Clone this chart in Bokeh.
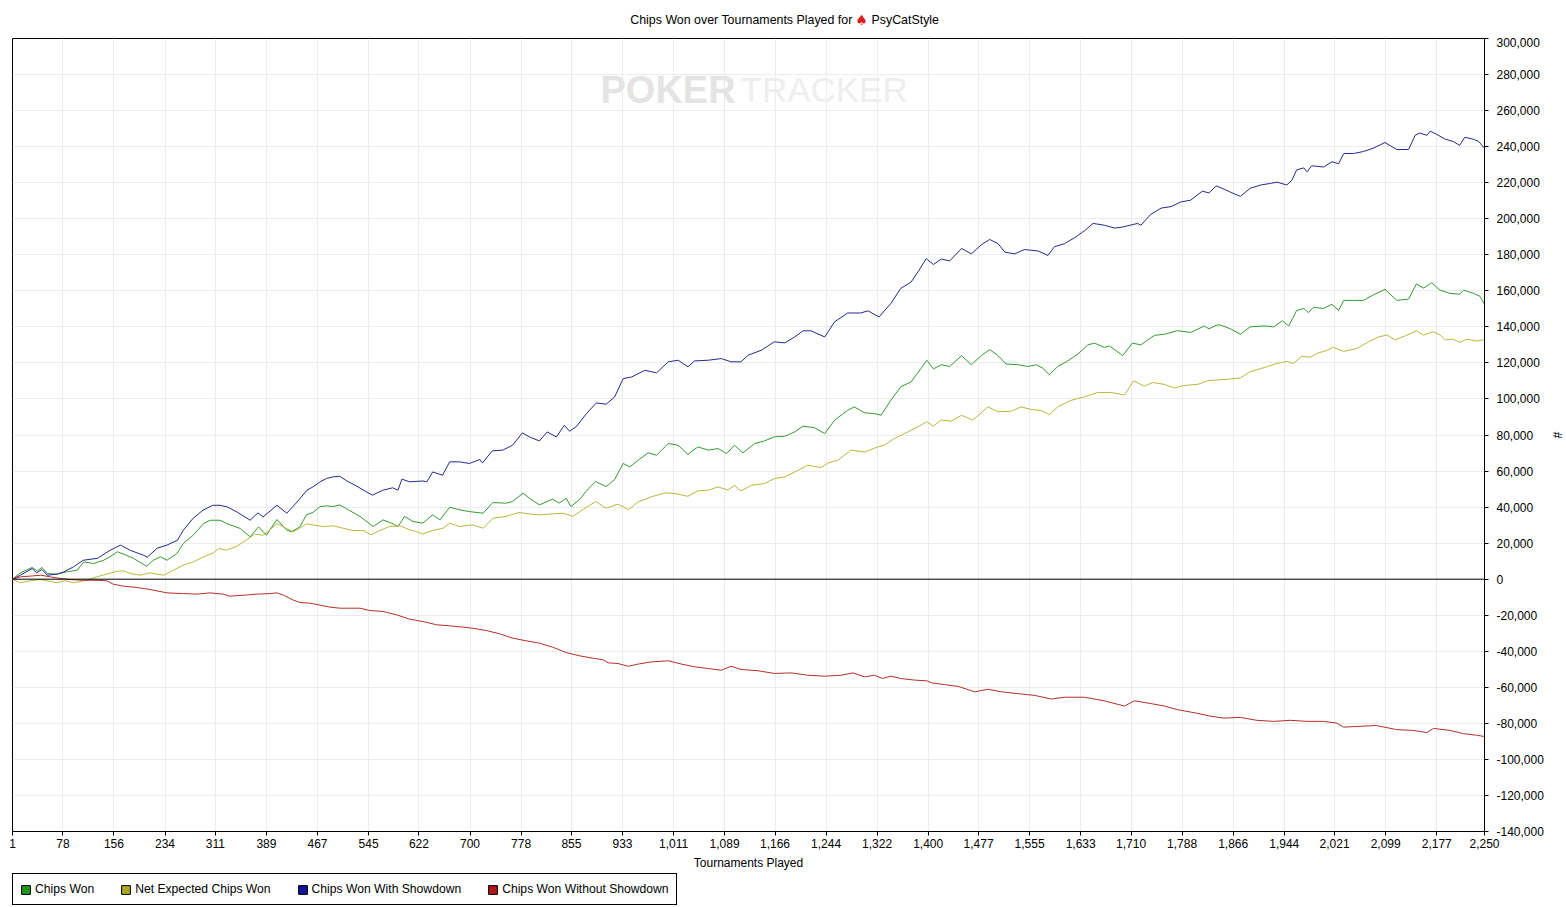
from bokeh.plotting import figure
from bokeh.layouts import column
from bokeh.models import (Range1d, FixedTicker, NumeralTickFormatter, Span, Label,
                          Legend, LegendItem)
from bokeh.embed import file_html
from bokeh.resources import INLINE

FONT = "Liberation Sans"

# ---------------- text ----------------
title_left = "Chips Won over Tournaments Played for"
title_icon = "\u2660"
title_player = "PsyCatStyle"
x_label = "Tournaments Played"
y_label = "#"
series_names = ["Chips Won", "Net Expected Chips Won", "Chips Won With Showdown",
                "Chips Won Without Showdown"]

# ---------------- axes ----------------
x_ticks = [1, 78, 156, 234, 311, 389, 467, 545, 622, 700, 778, 855, 933, 1011, 1089,
           1166, 1244, 1322, 1400, 1477, 1555, 1633, 1710, 1788, 1866, 1944, 2021,
           2099, 2177, 2250]
y_ticks = [-140000, -120000, -100000, -80000, -60000, -40000, -20000, 0, 20000, 40000,
           60000, 80000, 100000, 120000, 140000, 160000, 180000, 200000, 220000, 240000,
           260000, 280000, 300000]
x_min, x_max = 1, 2250
y_min, y_max = -140000, 300000

# ---------------- data ----------------
# Chips Won With Showdown (blue)
sd_t = [1, 13, 31, 38, 46, 54, 69, 79, 94, 109, 131, 150, 166, 181, 201, 207, 222, 237, 253,
        262, 277, 292, 307, 318, 329, 344, 364, 376, 384, 405, 420, 436, 451, 460, 471, 481,
        491, 501, 512, 527, 542, 551, 567, 582, 590, 596, 608, 628, 634, 643, 658, 669, 684,
        699, 715, 719, 734, 750, 765, 780, 791, 806, 818, 832, 844, 852, 862, 878, 893, 908,
        921, 934, 947, 967, 985, 1003, 1018, 1033, 1043, 1064, 1084, 1099, 1114, 1125, 1145,
        1165, 1181, 1196, 1209, 1221, 1242, 1257, 1277, 1297, 1308, 1325, 1343, 1358, 1374,
        1386, 1397, 1408, 1420, 1433, 1451, 1466, 1481, 1494, 1507, 1517, 1532, 1547, 1568,
        1583, 1593, 1608, 1624, 1639, 1652, 1669, 1685, 1697, 1720, 1725, 1740, 1756, 1771,
        1786, 1801, 1819, 1829, 1840, 1849, 1862, 1877, 1892, 1908, 1923, 1933, 1948, 1956,
        1963, 1974, 1979, 1986, 2004, 2017, 2027, 2035, 2050, 2065, 2080, 2098, 2116, 2134,
        2144, 2151, 2162, 2167, 2177, 2190, 2202, 2212, 2220, 2233, 2241, 2250]
sd_v = [0, 2200, 5900, 3500, 5400, 2200, 2800, 4000, 6800, 10500, 11600, 16000, 18900, 16000,
        13300, 12200, 17200, 18900, 21600, 27200, 33800, 38300, 41000, 41000, 40100, 37300,
        32700, 36800, 34600, 41000, 36600, 42900, 49400, 51200, 54000, 55900, 56800, 57100,
        54500, 51600, 48400, 46600, 49400, 50700, 49400, 55500, 54000, 54500, 54000, 59500,
        57700, 65100, 65100, 64200, 66400, 64500, 71200, 71600, 74300, 81200, 78900, 76700,
        81700, 78900, 85400, 82100, 84500, 91900, 97800, 97100, 101100, 111300, 112200,
        115900, 114500, 120600, 121500, 117800, 121100, 121500, 122400, 120600, 120600,
        124300, 127000, 131700, 131100, 134400, 137800, 137800, 134400, 142800, 147700,
        147700, 148900, 145500, 153000, 161300, 164900, 171400, 177900, 174600, 177600,
        176600, 183500, 180500, 185500, 188500, 186100, 181500, 180500, 182900, 182100,
        179600, 184500, 186100, 189500, 193400, 197400, 196400, 194800, 195400, 197400,
        196400, 202400, 205900, 206700, 209300, 210300, 215300, 214300, 218200, 216900,
        214700, 212400, 216900, 218700, 219600, 220300, 218700, 221500, 227100, 228200,
        226000, 229400, 228700, 231600, 230500, 236200, 236200, 237300, 239100, 242300,
        238400, 238400, 246300, 247500, 246300, 248600, 246800, 244100, 242900, 240700,
        245200, 244100, 242900, 239100]

# Chips Won (green)
cw_t = [1, 13, 31, 39, 46, 54, 69, 84, 100, 110, 125, 140, 150, 161, 171, 186, 206, 216, 227,
        237, 252, 262, 277, 293, 303, 318, 328, 349, 364, 377, 389, 405, 420, 427, 440, 450,
        460, 471, 481, 491, 501, 516, 532, 552, 567, 580, 590, 600, 613, 628, 643, 654, 669,
        684, 699, 720, 735, 755, 765, 781, 791, 806, 826, 836, 847, 854, 867, 877, 892, 908,
        921, 934, 944, 957, 972, 985, 1003, 1018, 1033, 1048, 1064, 1079, 1092, 1104, 1117,
        1135, 1150, 1165, 1181, 1196, 1209, 1226, 1242, 1257, 1277, 1287, 1303, 1318, 1328,
        1343, 1358, 1374, 1389, 1398, 1408, 1420, 1433, 1451, 1466, 1481, 1494, 1507, 1519,
        1537, 1552, 1565, 1575, 1585, 1598, 1613, 1629, 1644, 1654, 1669, 1677, 1690, 1697,
        1712, 1725, 1740, 1746, 1761, 1781, 1801, 1822, 1829, 1840, 1846, 1862, 1877, 1892,
        1913, 1928, 1941, 1951, 1963, 1974, 1981, 1989, 2004, 2017, 2027, 2035, 2050, 2065,
        2080, 2098, 2116, 2134, 2146, 2157, 2169, 2182, 2197, 2212, 2218, 2233, 2243, 2250]
cw_v = [0, 3500, 6500, 4600, 6500, 3100, 2800, 4100, 5000, 9600, 8700, 10500, 12400, 15200,
        13900, 11500, 7200, 10500, 12400, 10500, 14200, 19800, 24400, 30900, 32700, 32700,
        30900, 28100, 23500, 29000, 24400, 33100, 27200, 26300, 29000, 35700, 37000, 40300,
        40700, 40300, 41200, 38100, 34800, 29200, 32900, 31100, 29200, 34800, 32000, 31100,
        35700, 32900, 39900, 38500, 37500, 36600, 42500, 42200, 43100, 47700, 44900, 41200,
        44400, 42200, 44900, 40300, 44000, 48600, 54200, 51400, 55300, 64200, 62300, 66000,
        70100, 68800, 75300, 74300, 69300, 73400, 71600, 72500, 69700, 74300, 70100, 75300,
        76700, 79000, 79300, 81700, 84900, 84100, 80800, 88200, 93700, 95600, 92300, 91900,
        91000, 99300, 106700, 109500, 116900, 121500, 116700, 119000, 118000, 124000, 119000,
        124000, 127400, 124000, 119400, 119000, 118000, 119000, 117100, 113500, 118000,
        121000, 125000, 130000, 131000, 128600, 129400, 126000, 124000, 131000, 130000,
        133900, 135300, 135900, 137900, 136900, 140500, 138900, 140900, 141100, 138900,
        135900, 140000, 140500, 140000, 143400, 140500, 149100, 150200, 147900, 150900,
        150200, 152500, 149100, 154700, 154700, 154700, 157700, 160800, 154700, 155400,
        163800, 161500, 164500, 160400, 158600, 158100, 160400, 158600, 157000, 152500]

# Net Expected Chips Won (olive yellow)
nec_t = [1, 13, 28, 44, 54, 69, 82, 94, 110, 130, 145, 161, 171, 181, 196, 211, 232, 247, 262,
         277, 293, 308, 316, 328, 344, 354, 364, 371, 384, 394, 405, 420, 430, 440, 450, 460,
         476, 491, 506, 521, 537, 549, 562, 577, 593, 608, 618, 628, 643, 659, 669, 684, 704,
         720, 735, 755, 775, 791, 806, 826, 842, 857, 872, 892, 908, 926, 942, 957, 977, 998,
         1013, 1033, 1048, 1064, 1079, 1094, 1104, 1114, 1130, 1150, 1165, 1181, 1196, 1216,
         1236, 1247, 1262, 1282, 1303, 1323, 1333, 1348, 1369, 1384, 1398, 1408, 1420, 1435,
         1451, 1468, 1481, 1491, 1507, 1527, 1542, 1557, 1573, 1585, 1598, 1618, 1639, 1659,
         1679, 1700, 1714, 1730, 1743, 1761, 1776, 1791, 1812, 1827, 1840, 1862, 1877, 1892,
         1913, 1933, 1948, 1958, 1971, 1984, 1994, 2009, 2019, 2035, 2055, 2075, 2088, 2101,
         2113, 2129, 2146, 2157, 2172, 2182, 2190, 2202, 2212, 2223, 2238, 2250]
nec_v = [0, -2000, -900, -200, -900, -2000, -900, -2000, -900, 1300, 2800, 4400, 4600, 3100,
         2200, 3500, 2200, 5000, 7800, 9600, 12400, 14600, 17000, 16100, 18300, 20700, 23100,
         25000, 24400, 27200, 30900, 28100, 26300, 28300, 30700, 30100, 29200, 29600, 28300,
         27000, 27000, 24600, 27000, 29200, 29600, 27400, 26400, 25100, 27000, 28300, 31100,
         29200, 30100, 28300, 33800, 34800, 37000, 36200, 35700, 36200, 36600, 34800, 38500,
         43100, 39400, 41600, 38600, 42900, 45700, 47900, 47500, 46000, 49000, 49400, 51200,
         49400, 52100, 49000, 52100, 53100, 55800, 56800, 59500, 63200, 61900, 64500, 66000,
         71600, 70600, 73400, 74300, 78000, 81700, 84500, 87300, 84900, 88300, 87700, 90900,
         88300, 92300, 95600, 92900, 93200, 95600, 94200, 93600, 91300, 95600, 99200, 101200,
         103600, 103600, 102200, 110100, 107100, 109100, 108100, 106100, 107500, 108100,
         110100, 110500, 111100, 111700, 115100, 117400, 119700, 120800, 119700, 123700,
         123100, 125300, 126900, 128700, 126400, 128000, 132100, 134400, 135500, 132800,
         135000, 137800, 135500, 137300, 135500, 132800, 133200, 131400, 133200, 132100,
         132800]

# Chips Won Without Showdown (red)
nsd_t = [1, 13, 28, 44, 59, 74, 89, 110, 130, 145, 155, 171, 191, 211, 237, 262, 283, 303,
         323, 333, 354, 374, 394, 405, 415, 430, 440, 455, 468, 486, 501, 516, 532, 547, 567,
         588, 608, 628, 649, 669, 689, 704, 725, 745, 765, 786, 806, 826, 847, 867, 887, 903,
         911, 926, 942, 957, 977, 1003, 1023, 1043, 1064, 1084, 1099, 1114, 1140, 1165, 1191,
         1216, 1242, 1267, 1285, 1303, 1318, 1330, 1343, 1358, 1379, 1398, 1405, 1425, 1446,
         1471, 1491, 1512, 1537, 1563, 1588, 1608, 1639, 1669, 1700, 1715, 1740, 1761, 1781,
         1811, 1831, 1852, 1877, 1902, 1928, 1953, 1979, 2004, 2024, 2035, 2055, 2085, 2116,
         2141, 2162, 2172, 2197, 2218, 2238, 2250]
nsd_v = [0, 1300, 1700, 2200, 1300, 400, -200, -600, -600, -900, -2800, -3900, -4600, -5700,
         -7600, -8000, -8300, -7600, -8300, -9400, -8900, -8300, -8000, -7600, -8900, -11600,
         -12900, -13300, -14200, -15500, -16100, -16100, -16100, -17400, -17900, -19800,
         -22200, -23500, -25300, -25900, -26600, -27200, -28500, -30300, -32700, -34200,
         -35500, -37700, -40700, -42500, -43800, -44700, -46400, -46800, -48300, -47100,
         -45900, -45300, -47100, -48600, -49600, -50500, -48300, -50100, -50800, -52300,
         -52000, -53300, -53800, -53300, -52000, -54200, -53300, -55100, -53800, -55100,
         -56000, -56400, -57500, -58500, -59500, -62500, -61100, -62500, -63500, -64500,
         -66500, -65500, -65500, -67500, -70400, -67500, -69000, -70400, -72400, -74400,
         -76000, -77100, -76700, -78300, -78900, -78300, -78900, -78900, -79800, -82100,
         -81700, -81200, -83500, -83900, -85100, -82800, -83900, -85700, -86600, -87300]

series = [(cw_t, cw_v), (nec_t, nec_v), (sd_t, sd_v), (nsd_t, nsd_v)]
line_colors = ["#329c32", "#b8b840", "#28288c", "#b22e2e"]
swatch_colors = ["#1f9a1f", "#a9a926", "#14149c", "#b01818"]


def bare_figure(h):
    f = figure(width=1566, height=h, output_backend="svg", toolbar_location=None,
               x_axis_location=None, y_axis_location=None, min_border=0,
               background_fill_color="white", border_fill_color="white")
    f.outline_line_color = None
    f.grid.visible = False
    return f


# ---------------- title strip ----------------
# (in a column the strip's frame is aligned with the chart frame, which starts at x=12)
tf = bare_figure(37)
tf.add_layout(Label(x=840, y=18, x_units="screen", y_units="screen", text=title_left,
                    text_font=FONT, text_font_size="12.4px", text_color="black",
                    text_align="right", text_baseline="middle"))
tf.add_layout(Label(x=849, y=18, x_units="screen", y_units="screen", text=title_icon,
                    text_font="DejaVu Sans", text_font_size="14px", text_color="#d42020",
                    text_align="center", text_baseline="middle"))
tf.add_layout(Label(x=859, y=18, x_units="screen", y_units="screen", text=title_player,
                    text_font=FONT, text_font_size="12.4px", text_color="black",
                    text_align="left", text_baseline="middle"))

# ---------------- main chart ----------------
p = figure(width=1566, height=836, output_backend="svg", toolbar_location=None,
           x_range=Range1d(x_min, x_max), y_range=Range1d(y_min, y_max),
           y_axis_location="right", min_border_left=12, min_border_top=1,
           min_border_right=79, min_border_bottom=42, background_fill_color="white",
           border_fill_color="white")
p.outline_line_color = "black"
p.outline_line_width = 1

for ax in (p.xaxis[0], p.yaxis[0]):
    ax.axis_line_color = "black"
    ax.major_tick_line_color = "black"
    ax.major_tick_out = 4
    ax.major_tick_in = 0
    ax.minor_tick_line_color = None
    ax.major_label_text_font = FONT
    ax.major_label_text_font_size = "12px"
    ax.major_label_text_color = "black"
    ax.axis_label_text_font = FONT
    ax.axis_label_text_font_size = "12px"
    ax.axis_label_text_font_style = "normal"
    ax.axis_label_text_color = "black"
    ax.formatter = NumeralTickFormatter(format="0,0")

p.xaxis[0].ticker = FixedTicker(ticks=x_ticks)
p.yaxis[0].ticker = FixedTicker(ticks=y_ticks)
p.xaxis[0].axis_label = x_label
p.yaxis[0].axis_label = y_label
p.xaxis[0].major_label_standoff = 3
p.xaxis[0].axis_label_standoff = 5
p.yaxis[0].major_label_standoff = 8
p.yaxis[0].axis_label_standoff = 3

p.xgrid.ticker = FixedTicker(ticks=x_ticks)
p.ygrid.ticker = FixedTicker(ticks=y_ticks)
p.grid.grid_line_color = "#ececec"
p.grid.grid_line_width = 1

p.add_layout(Span(location=0, dimension="width", line_color="black", line_width=1))

# watermark
p.add_layout(Label(x=588, y=742, x_units="screen", y_units="screen", text="POKER",
                   text_font=FONT, text_font_size="38px", text_font_style="bold",
                   text_color="#e4e4e4", text_baseline="alphabetic", text_align="left",
                   level="underlay"))
p.add_layout(Label(x=728, y=742, x_units="screen", y_units="screen", text="TRACKER",
                   text_font=FONT, text_font_size="35px", text_color="#eeeeee",
                   text_baseline="alphabetic", text_align="left", level="underlay"))

for (t, v), c in zip(series, line_colors):
    p.line(t, v, line_color=c, line_width=1)

# ---------------- legend strip ----------------
lf = bare_figure(34)
items = []
for (t, v), name, c in zip(series, series_names, swatch_colors):
    r = lf.quad(left=t, right=t, top=v, bottom=v, fill_color=c, line_color="black",
                line_width=1, visible=False)
    items.append(LegendItem(label=name, renderers=[r]))

legend = Legend(items=items, orientation="horizontal", location=(0, 2), margin=0,
                padding=7, spacing=26, label_standoff=4, glyph_width=11, glyph_height=11,
                label_height=16, label_text_font=FONT, label_text_font_size="12.15px",
                label_text_color="black", border_line_color="black", border_line_width=1,
                border_line_alpha=1.0, background_fill_color="white",
                background_fill_alpha=1.0)
lf.add_layout(legend)

page = column(tf, p, lf, spacing=0)
open("out.html", "w").write(file_html(page, INLINE))
